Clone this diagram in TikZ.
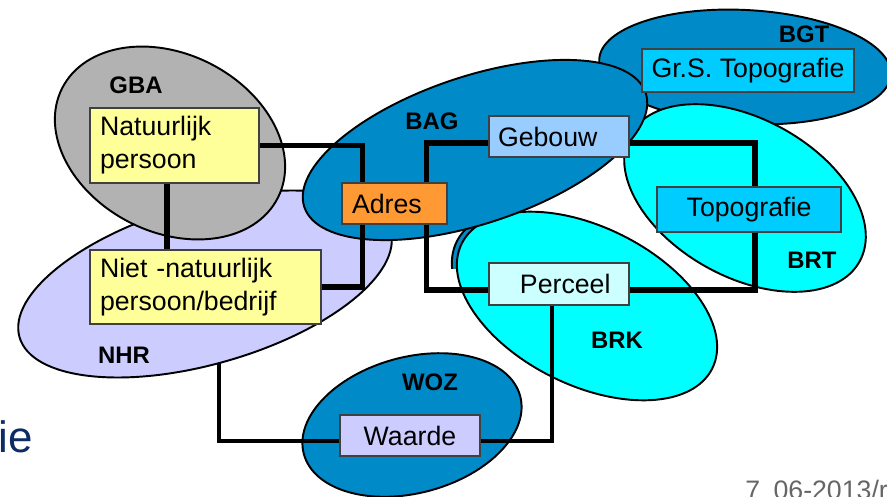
\documentclass[tikz,border=0pt]{standalone}
\usepackage{fontspec}
\setmainfont{Liberation Sans}
\usetikzlibrary{shapes.geometric}

\definecolor{gbagray}{HTML}{B2B2B2}
\definecolor{nhrlila}{HTML}{CCCCFF}
\definecolor{regblue}{HTML}{008AC8}
\definecolor{regcyan}{HTML}{00FFFF}
\definecolor{boxyellow}{HTML}{FFFF99}
\definecolor{boxorange}{HTML}{FF9933}
\definecolor{boxsky}{HTML}{99CCFF}
\definecolor{boxtopo}{HTML}{00CCFF}
\definecolor{boxpale}{HTML}{CCFFFF}
\definecolor{slidenavy}{HTML}{0B2D64}

\tikzset{
  registry/.style={ellipse, draw=black, line width=1.1pt, inner sep=0pt},
  regname/.style={font=\fontsize{13.6}{16}\selectfont\bfseries},
  infobox/.style={draw=black!75, line width=0.6pt, inner ysep=0pt,
    font=\fontsize{15.2}{18.7}\selectfont},
  link/.style={line width=3.1pt},
  thinlink/.style={line width=2pt}
}

\begin{document}
\begin{tikzpicture}[x=0.02cm, y=-0.02cm]
	\clip (0,0) rectangle (887,497);
	\node[registry, fill=nhrlila, minimum width=7.72cm, minimum height=3.2cm, rotate=16] (NHR) at (205,284) {};
	\node[registry, fill=gbagray, minimum width=4.84cm, minimum height=3.56cm, rotate=-27] (GBA) at (170,143) {};
	\node[registry, fill=regblue, minimum width=5.84cm, minimum height=2.28cm, rotate=-3] (BGT) at (745,67) {};
	\node[registry, fill=regcyan, minimum width=5.24cm, minimum height=3.16cm, rotate=-29] (BRT) at (745,198) {};
	\begin{scope}
		\clip (440,200) rectangle (500,268);
		\node[registry, fill=regblue, minimum width=5.6cm, minimum height=3.16cm, rotate=-26.5] (BRKrim) at (582,304) {};
	\end{scope}
	\node[registry, fill=regcyan, minimum width=5.6cm, minimum height=3.16cm, rotate=-26.5] (BRK) at (587,306) {};
	\node[registry, fill=regblue, minimum width=4.48cm, minimum height=2.72cm, rotate=15] (WOZ) at (412,425) {};
	\node[registry, fill=regblue, minimum width=7.2cm, minimum height=2.94cm, rotate=18.5] (BAG) at (475,150) {};

	\node[regname] (GBAname) at (136,85) {GBA};
	\node[regname] (BAGname) at (432,121) {BAG};
	\node[regname] (BGTname) at (804,34) {BGT};
	\node[regname] (BRTname) at (812,260) {BRT};
	\node[regname] (BRKname) at (617,340) {BRK};
	\node[regname] (NHRname) at (124,355) {NHR};
	\node[regname] (WOZname) at (430,382) {WOZ};

	\node[infobox, fill=boxyellow, inner xsep=0.2cm, text width=2.98cm, align=left, minimum height=1.5cm] (nat) at (174.5,145.5) {Natuurlijk\\persoon};
	\node[infobox, fill=boxyellow, inner xsep=0.2cm, text width=4.22cm, align=left, minimum height=1.48cm] (niet) at (205.5,287) {Niet -natuurlijk\\persoon/bedrijf};
	\node[infobox, fill=boxorange, inner xsep=0.2cm, text width=1.7cm, align=left, minimum height=0.82cm] (adres) at (394.5,203.5) {Adres};
	\node[infobox, fill=boxsky, inner xsep=0.18cm, text width=2.44cm, align=left, minimum height=0.82cm] (gebouw) at (559,136.5) {Gebouw};
	\node[infobox, fill=boxtopo, inner xsep=0pt, minimum width=4.24cm, minimum height=0.86cm] (grs) at (748,70.5) {Gr.S. Topografie};
	\node[infobox, fill=boxtopo, inner xsep=0pt, minimum width=3.68cm, minimum height=0.9cm] (topo) at (749,209.5) {Topografie\hspace{0.1cm}};
	\node[infobox, fill=boxpale, inner xsep=0pt, minimum width=2.8cm, minimum height=0.84cm] (perceel) at (559,284) {\hspace{0.25cm}Perceel};
	\node[infobox, fill=nhrlila, inner xsep=0pt, minimum width=2.8cm, minimum height=0.82cm] (waarde) at (410,435.5) {Waarde};

	\coordinate (nhrfoot) at (219,363);
	\draw[link] (nat.east) -| ([xshift=0.42cm]adres.north west);
	\draw[link] ([xshift=-0.15cm]nat.south) -- ([xshift=-0.15cm]nat.south |- niet.north);
	\draw[link] (niet.east) -| ([xshift=0.42cm]adres.south west);
	\draw[link] ([xshift=-0.42cm]adres.north east) |- ([yshift=-0.13cm]gebouw.west);
	\draw[link] ([xshift=-0.42cm]adres.south east) |- ([yshift=-0.12cm]perceel.west);
	\draw[link] ([yshift=-0.13cm]gebouw.east) -| ([xshift=0.12cm]topo.north);
	\draw[link] ([xshift=0.12cm]topo.south) |- ([yshift=-0.12cm]perceel.east);
	\draw[thinlink] ([xshift=-0.14cm]perceel.south) |- ([yshift=-0.11cm]waarde.east);
	\draw[thinlink] ([yshift=-0.11cm]waarde.west) -| (nhrfoot);

	\node[anchor=base west, text=slidenavy, font=\fontsize{25}{30}\selectfont, inner sep=0pt] (slideword) at (-2,452) {ie};
	\node[anchor=base west, text=black!60, font=\fontsize{15.2}{18}\selectfont, inner sep=0pt] (slidefoot) at (745,499) {7\hspace{0.5em}06-2013/r};
\end{tikzpicture}
\end{document}
